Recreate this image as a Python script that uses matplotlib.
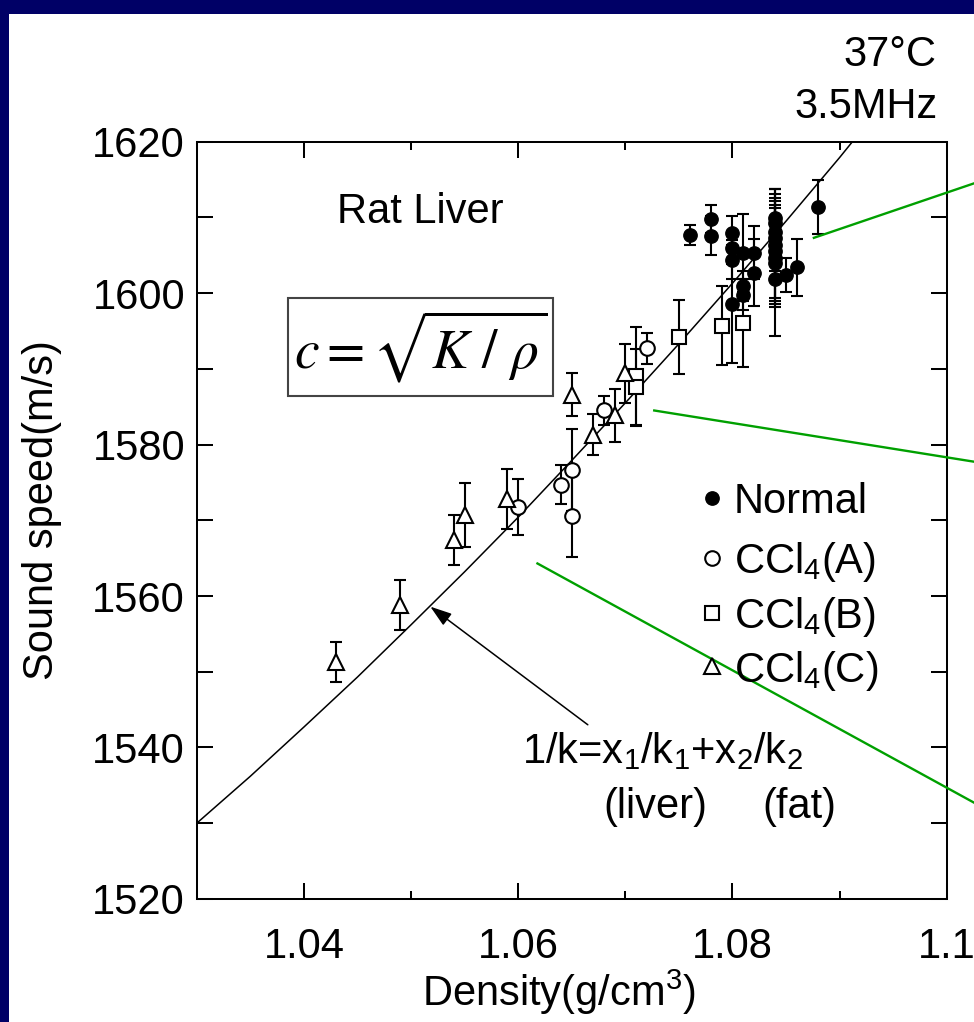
import matplotlib
matplotlib.use('Agg')
import matplotlib.pyplot as plt
from matplotlib.patches import Rectangle
from matplotlib.ticker import MultipleLocator, FuncFormatter

plt.rcParams['font.family'] = ['Liberation Sans', 'DejaVu Sans']
plt.rcParams['mathtext.fontset'] = 'custom'
plt.rcParams['mathtext.rm'] = 'Liberation Sans'
plt.rcParams['mathtext.it'] = 'Liberation Sans:italic'
plt.rcParams['mathtext.bf'] = 'Liberation Sans:bold'

# --- data ---
normal_x = [1.076, 1.078, 1.078, 1.080, 1.080, 1.080, 1.080, 1.081, 1.081, 1.081,
            1.082, 1.082, 1.084, 1.084, 1.084, 1.084, 1.084, 1.084, 1.084, 1.084,
            1.084, 1.085, 1.086, 1.088]
normal_y = [1607.7, 1609.8, 1607.6, 1607.9, 1605.9, 1604.4, 1598.6, 1605.3, 1600.9, 1599.8,
            1605.3, 1602.7, 1609.9, 1609.2, 1608.1, 1607.3, 1606.3, 1605.5, 1604.7, 1604.0,
            1601.9, 1602.4, 1603.4, 1611.4]
normal_err = [1.3, 1.9, 2.6, 2.3, 2.0, 2.6, 7.8, 5.1, 2.0, 2.0,
              3.5, 4.4, 3.8, 3.9, 4.1, 4.4, 7.4, 7.0, 6.5, 9.7,
              2.5, 2.2, 3.8, 3.6]

ccl4a_x = [1.060, 1.064, 1.065, 1.065, 1.068, 1.072]
ccl4a_y = [1571.8, 1574.7, 1576.6, 1570.6, 1584.5, 1592.7]
ccl4a_err = [3.7, 2.6, 5.4, 5.4, 1.9, 2.0]

ccl4b_x = [1.071, 1.071, 1.075, 1.079, 1.081]
ccl4b_y = [1589.0, 1587.6, 1594.2, 1595.7, 1596.1]
ccl4b_err = [6.5, 5.0, 4.9, 5.2, 5.8]

ccl4c_x = [1.043, 1.049, 1.054, 1.055, 1.059, 1.065, 1.067, 1.069, 1.070]
ccl4c_y = [1551.3, 1558.8, 1567.4, 1570.7, 1572.8, 1586.6, 1581.3, 1583.9, 1589.4]
ccl4c_err = [2.6, 3.3, 3.3, 4.2, 4.0, 2.8, 2.7, 3.5, 3.9]

# model curve 1/k = x1/k1 + x2/k2
curve_x = [1.030, 1.035, 1.040, 1.045, 1.050, 1.055, 1.060, 1.065, 1.070,
           1.075, 1.080, 1.085, 1.090, 1.0912]
curve_y = [1530.0, 1536.2, 1542.7, 1549.3, 1556.2, 1563.2, 1570.4, 1577.9, 1585.5,
           1593.3, 1601.3, 1609.5, 1617.9, 1620.0]

# green callout lines running off the right edge
callout_x0 = [1.0876, 1.0727, 1.0618]
callout_y0 = [1607.3, 1584.5, 1564.3]
callout_x1 = [1.1036, 1.1036, 1.1036]
callout_y1 = [1615.0, 1577.5, 1531.9]

labels = ['Normal', 'CCl$_4$(A)', 'CCl$_4$(B)', 'CCl$_4$(C)']

fig = plt.figure(figsize=(9.74, 10.22), dpi=100)
fig.patch.set_facecolor('#000066')
fig.add_artist(Rectangle((9 / 974, 0), 1, 1 - 14 / 1022, transform=fig.transFigure,
                         facecolor='white', edgecolor='none', zorder=-5))

ax = fig.add_axes([0.2020, 0.1204, 0.7700, 0.7410])

ebkw = dict(ecolor='black', elinewidth=1.5, capsize=4.3, capthick=1.5, linestyle='none')
ax.plot(curve_x, curve_y, color='black', lw=1.1, zorder=2)
ax.errorbar(normal_x, normal_y, yerr=normal_err, marker='o', ms=9.6, mfc='black',
            mec='black', zorder=3, **ebkw)
ax.errorbar(ccl4a_x, ccl4a_y, yerr=ccl4a_err, marker='o', ms=10.5, mfc='white',
            mec='black', mew=1.5, zorder=3, **ebkw)
ax.errorbar(ccl4b_x, ccl4b_y, yerr=ccl4b_err, marker='s', ms=10.5, mfc='white',
            mec='black', mew=1.5, zorder=3, **ebkw)
ax.errorbar(ccl4c_x, ccl4c_y, yerr=ccl4c_err, marker='^', ms=11.5, mfc='white',
            mec='black', mew=1.5, zorder=3, **ebkw)

for x0, y0, x1, y1 in zip(callout_x0, callout_y0, callout_x1, callout_y1):
    ax.plot([x0, x1], [y0, y1], color='#00a000', lw=1.7, clip_on=False, zorder=4)

ax.set_xlim(1.03, 1.10)
ax.set_ylim(1520, 1620)
ax.xaxis.set_major_locator(MultipleLocator(0.02))
ax.xaxis.set_minor_locator(MultipleLocator(0.01))
ax.xaxis.set_major_formatter(FuncFormatter(lambda v, p: '%g' % round(v, 4)))
ax.yaxis.set_major_locator(MultipleLocator(20))
ax.yaxis.set_minor_locator(MultipleLocator(10))
ax.tick_params(which='both', direction='in', top=True, right=True, width=1.45,
               labelsize=30)
ax.tick_params(axis='x', which='major', length=11.3, pad=20)
ax.tick_params(axis='x', which='minor', length=5.6)
ax.tick_params(axis='y', which='both', length=11.3, pad=8.4)
for s in ax.spines.values():
    s.set_linewidth(1.45)

ax.set_xlabel('Density(g/cm$^3$)', fontsize=30)
ax.xaxis.set_label_coords(0.483, -0.091)
ax.set_ylabel('Sound speed(m/s)', fontsize=30)
ax.yaxis.set_label_coords(-0.18, 0.514)

ax.text(0.2985, 0.8922, 'Rat Liver', transform=ax.transAxes, fontsize=30,
        ha='center', va='baseline')
ax.add_patch(Rectangle((0.1221, 0.6642), 0.353, 0.1298, transform=ax.transAxes,
                       facecolor='white', edgecolor='#444444', lw=1.5, zorder=5))
ax.text(0.2986, 0.729, r'$c=\sqrt{K\ /\ \rho}$', transform=ax.transAxes, fontsize=40,
        ha='center', va='center', math_fontfamily='stix', zorder=6)

ax.annotate('', xy=(1.0518, 1558.6), xytext=(1.0665, 1543.0),
            arrowprops=dict(arrowstyle='-|>,head_length=0.6,head_width=0.2',
                            color='black', lw=1.1, mutation_scale=22,
                            shrinkA=0, shrinkB=0), zorder=4)
ax.text(0.4333, 0.1796, '1/k=x$_1$/k$_1$+x$_2$/k$_2$', transform=ax.transAxes,
        fontsize=30, ha='left', va='baseline')
ax.text(0.611, 0.107, '(liver)', transform=ax.transAxes, fontsize=30,
        ha='center', va='baseline')
ax.text(0.8033, 0.107, '(fat)', transform=ax.transAxes, fontsize=30,
        ha='center', va='baseline')

# legend drawn as a column of symbols with labels
leg_mx = 0.687
leg_tx = 0.716
leg_base = [0.5094, 0.4302, 0.3576, 0.2871]
leg_style = [dict(marker='o', ms=9.6, mfc='black', mec='black'),
             dict(marker='o', ms=10.5, mfc='white', mec='black', mew=1.5),
             dict(marker='s', ms=10.5, mfc='white', mec='black', mew=1.5),
             dict(marker='^', ms=11.5, mfc='white', mec='black', mew=1.5)]
for lab, yb, st in zip(labels, leg_base, leg_style):
    ax.plot([leg_mx], [yb + 0.0205], transform=ax.transAxes, linestyle='none',
            clip_on=False, zorder=5, **st)
    ax.text(leg_tx, yb, lab, transform=ax.transAxes, fontsize=30,
            ha='left', va='baseline', zorder=5)

fig.text(0.961, 0.9354, '37°C', fontsize=30, ha='right', va='baseline')
fig.text(0.963, 0.8845, '3.5MHz', fontsize=30, ha='right', va='baseline')

fig.savefig('out.png', dpi=100)
